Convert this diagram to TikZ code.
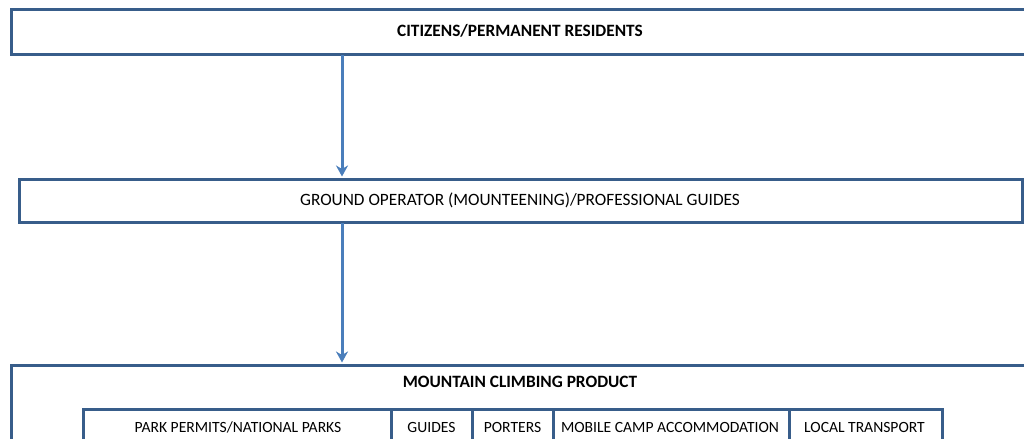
\documentclass[tikz,border=0pt]{standalone}
\usepackage{fontspec}
\setmainfont{Carlito}
\usetikzlibrary{arrows.meta}
\definecolor{boxblue}{RGB}{56,93,138}
\definecolor{arrblue}{RGB}{74,126,187}
\begin{document}
\begin{tikzpicture}[x=1bp,y=-1bp,
  box/.style={draw=boxblue,line width=3.4bp,fill=white,inner sep=0pt,anchor=north west},
  lbl/.style={font=\fontsize{17.3bp}{19bp}\selectfont,inner sep=0pt,text=black},
  blbl/.style={lbl,font=\fontsize{17.3bp}{19bp}\selectfont\bfseries},
  slbl/.style={lbl,font=\fontsize{15.6bp}{17bp}\selectfont},
  conn/.style={draw=arrblue,line width=3bp,-{Stealth[length=11bp,width=12bp,inset=3.5bp]}}]
\useasboundingbox (0,0) rectangle (1024,439);
\clip (0,0) rectangle (1024,439);
% top box
\node[box,minimum width=1020bp,minimum height=45bp] (cit) at (10,8) {};
\node[blbl] (citl) at (520,31) {CITIZENS/PERMANENT RESIDENTS};
% middle box
\node[box,minimum width=1003bp,minimum height=43bp] (gop) at (18,178) {};
\node[lbl] (gopl) at (520,200) {GROUND OPERATOR (MOUNTEENING)/PROFESSIONAL GUIDES};
% bottom box
\node[box,minimum width=1020bp,minimum height=120bp] (prod) at (10,364) {};
\node[blbl] (prodl) at (520,382) {MOUNTAIN CLIMBING PRODUCT};
% cells
\node[box,minimum width=308bp,minimum height=60bp] (c1) at (82,408) {};
\node[box,minimum width=81bp,minimum height=60bp] (c2) at (390,408) {};
\node[box,minimum width=81bp,minimum height=60bp] (c3) at (471,408) {};
\node[box,minimum width=236bp,minimum height=60bp] (c4) at (552,408) {};
\node[box,minimum width=153bp,minimum height=60bp] (c5) at (788,408) {};
\node[slbl] (c1l) at (238,427.5) {PARK PERMITS/NATIONAL PARKS};
\node[slbl] (c2l) at (431.5,427.5) {GUIDES};
\node[slbl] (c3l) at (512.5,427.5) {PORTERS};
\node[slbl] (c4l) at (670,427.5) {MOBILE CAMP ACCOMMODATION};
\node[slbl] (c5l) at (864.5,427.5) {LOCAL TRANSPORT};
% connectors
\coordinate (a1) at (342,55);
\coordinate (a2) at (342,176.5);
\coordinate (b1) at (342,223);
\coordinate (b2) at (342,362.5);
\draw[conn] (a1) -- (a2);
\draw[conn] (b1) -- (b2);
\end{tikzpicture}
\end{document}
